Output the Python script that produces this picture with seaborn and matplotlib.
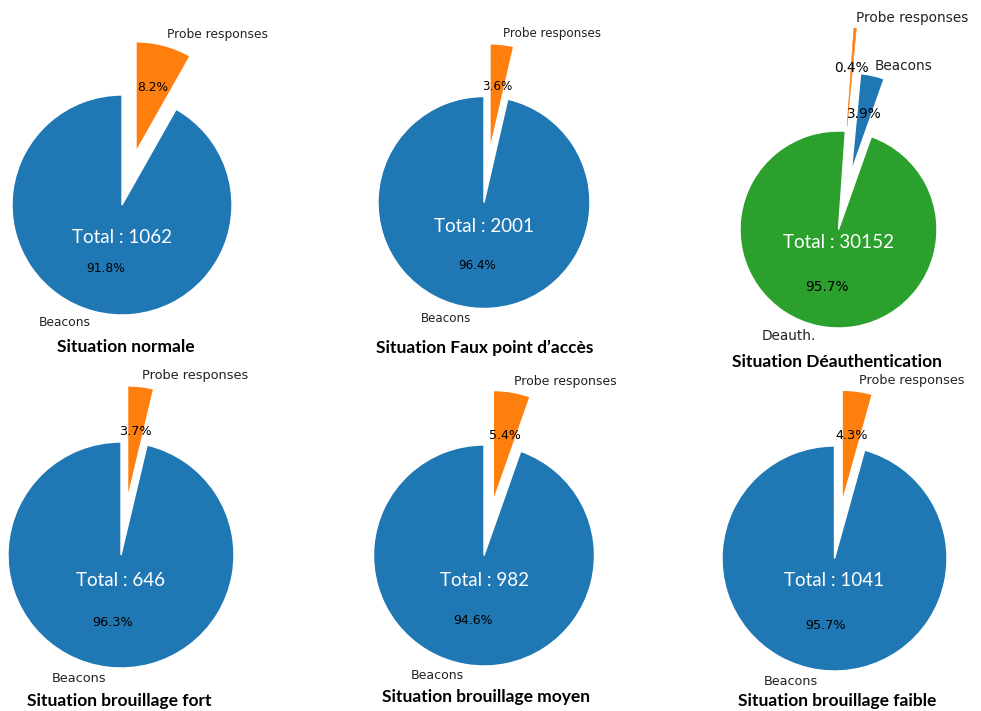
import matplotlib
matplotlib.use("Agg")
import matplotlib.pyplot as plt
import seaborn as sns

# packet counts per situation
situations = ["Situation normale", "Situation Faux point d\u2019acc\u00e8s", "Situation D\u00e9authentication",
              "Situation brouillage fort", "Situation brouillage moyen", "Situation brouillage faible"]
labels_std = ["Beacons", "Probe responses"]
labels_deauth = ["Deauth.", "Beacons", "Probe responses"]
beacons = [975, 1929, 1176, 622, 929, 996]
probe_responses = [87, 72, 121, 24, 53, 45]
deauth = [0, 0, 28855, 0, 0, 0]

sns.set_style("white")
pal = sns.color_palette("tab10")
blue, orange, green = pal[0], pal[1], pal[2]

W, H = 981, 711
fig = plt.figure(figsize=(W / 100, H / 100), dpi=100)

# layout of each panel in pixels: pie centre, radius, text sizes, offsets
centers = [(122, 205), (484, 202.5), (838.5, 229.5), (121, 555), (484, 555.5), (834.5, 558.5)]
radii = [110, 106, 98.5, 113, 110.5, 112.5]
label_size = [8.8, 8.6, 9.8, 9.3, 9.0, 9.2]
total_dy = [32, 24.5, 12.5, 25, 24.5, 21.5]
title_pos = [(126, 347), (485, 348), (837, 362), (119, 701), (486, 697), (837, 701)]
L = 2.4

for i, name in enumerate(situations):
    cx, cy = centers[i]
    r = radii[i]
    ax = fig.add_axes([(cx - L * r) / W, (H - cy - L * r) / H, 2 * L * r / W, 2 * L * r / H])
    if deauth[i] > 0:
        values = [deauth[i], beacons[i], probe_responses[i]]
        labels = labels_deauth
        colors = [green, blue, orange]
        explode = [0, 0.6, 1.05]
        start = 86
    else:
        values = [beacons[i], probe_responses[i]]
        labels = labels_std
        colors = [blue, orange]
        explode = [0, 0.5]
        start = 90
    wedges, texts, autotexts = ax.pie(values, labels=labels, colors=colors, explode=explode,
                                      startangle=start, autopct="%1.1f%%",
                                      wedgeprops=dict(edgecolor="white", linewidth=1),
                                      textprops=dict(fontsize=label_size[i], color="#222222"))
    for t in autotexts:
        t.set_color("black")
    # very thin slice: keep it visible as a line
    if values[-1] / sum(values) < 0.01:
        wedges[-1].set_edgecolor(orange)
        wedges[-1].set_linewidth(0.4)
    total = sum(values)
    ax.text(0, -total_dy[i] / r, f"Total : {total}", ha="center", va="center",
            color="white", fontsize=13.5, family="Lato")
    ax.set_xlim(-L, L)
    ax.set_ylim(-L, L)
    ax.set_aspect("equal", adjustable="box")
    ax.axis("off")
    tx, ty = title_pos[i]
    fig.text(tx / W, 1 - ty / H, name, ha="center", va="center", color="black",
             fontsize=12.5, fontweight="bold", family="Lato")

fig.savefig("out.png", dpi=100)
